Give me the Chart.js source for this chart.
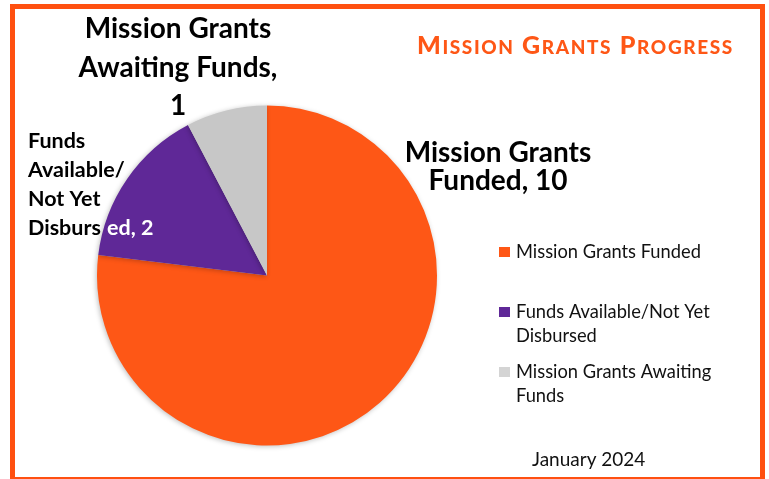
<!DOCTYPE html>
<html>
<head>
<meta charset="utf-8">
<script src="https://cdn.jsdelivr.net/npm/chart.js@4.4.1/dist/chart.umd.min.js"></script>
<style>
  html, body { margin: 0; padding: 0; background: #ffffff; overflow: hidden; }
  #wrap { position: relative; width: 769px; height: 479px; }
  #frame { position: absolute; left: 10px; top: 4px; width: 755px; height: 478px; box-sizing: border-box; border: 5px solid #FF5010; pointer-events: none; }
  canvas { position: absolute; left: 0; top: 0; }
</style>
</head>
<body>
<div id="wrap">
  <canvas id="c" width="769" height="479"></canvas>
  <div id="frame"></div>
</div>
<script>
const chartTitle = 'Mission Grants Progress';
const dateNote = 'January 2024';
const categories = ['Mission Grants Funded', 'Funds Available/Not Yet Disbursed', 'Mission Grants Awaiting Funds'];
const values = [10, 2, 1];
const colors = ['#FE5716', '#5F2897', '#C7C7C7'];
const legendColors = ['#FE5716', '#5F2897', '#D4D4D4'];
// data label line breaks (as in the reference)
const labelLines = [
  ['Mission Grants', 'Funded, 10'],
  ['Funds', 'Available/', 'Not Yet', 'Disburs|ed, 2'],
  ['Mission Grants', 'Awaiting Funds,', '1']
];
const legendLines = [
  ['Mission Grants Funded'],
  ['Funds Available/Not Yet', 'Disbursed'],
  ['Mission Grants Awaiting', 'Funds']
];

const FONT = 'Lato, "Open Sans", sans-serif';

function drawSmallCaps(ctx, text, x, y, big, small, spacing) {
  // manual small caps: uppercase letters at `big`, lowercase (uppercased) at `small`
  let cx = x;
  for (const ch of text) {
    const isLower = ch !== ch.toUpperCase();
    ctx.font = '900 ' + (isLower ? small : big) + 'px ' + FONT;
    const c = ch.toUpperCase();
    ctx.fillText(c, cx, y);
    cx += ctx.measureText(c).width + spacing;
  }
}

const textPlugin = {
  id: 'texts',
  beforeDatasetsDraw(chart) {
    const ctx = chart.ctx;
    ctx.save();
    ctx.shadowColor = 'rgba(0,0,0,0.25)';
    ctx.shadowBlur = 5;
    ctx.shadowOffsetX = -1;
    ctx.shadowOffsetY = 1;
  },
  afterDatasetsDraw(chart) {
    chart.ctx.restore();
  },
  afterDraw(chart) {
    const ctx = chart.ctx;
    ctx.save();
    ctx.textBaseline = 'alphabetic';
    ctx.textAlign = 'left';
    // Title (small caps)
    ctx.fillStyle = '#FE5716';
    drawSmallCaps(ctx, chartTitle, 417, 54, 25, 19, 1.6);

    // Data labels
    ctx.fillStyle = '#000';
    ctx.font = 'bold 28px ' + FONT;
    ctx.textAlign = 'center';
    labelLines[0].forEach((t, i) => ctx.fillText(t, 498, 162 + i * 28));
    labelLines[2].forEach((t, i) => ctx.fillText(t, 178, 38 + i * 38.5));
    ctx.font = 'bold 21.5px ' + FONT;
    ctx.textAlign = 'left';
    labelLines[1].forEach((t, i) => {
      const y = 148 + i * 29;
      if (t.includes('|')) {
        const [a, b] = t.split('|');
        ctx.fillStyle = '#000';
        ctx.fillText(a, 28, y);
        ctx.fillStyle = '#fff';
        ctx.fillText(b, 107, y);
      } else {
        ctx.fillStyle = '#000';
        ctx.fillText(t, 28, y);
      }
    });

    // Legend
    const legY = [258, 318, 378];
    ctx.font = '18.3px ' + FONT;
    legendLines.forEach((lines, k) => {
      ctx.fillStyle = legendColors[k];
      ctx.fillRect(499, legY[k] - 11, 11, 10);
      ctx.fillStyle = '#111';
      lines.forEach((t, i) => ctx.fillText(t, 516, legY[k] + i * 24));
    });

    // Date
    ctx.font = '19px ' + FONT;
    ctx.fillStyle = '#111';
    ctx.fillText(dateNote, 532, 466);
    ctx.restore();
  }
};

new Chart(document.getElementById('c'), {
  type: 'pie',
  data: {
    labels: categories,
    datasets: [{
      data: values,
      backgroundColor: colors,
      borderWidth: 0,
      hoverOffset: 0
    }]
  },
  options: {
    responsive: false,
    animation: false,
    events: [],
    layout: { padding: { left: 97, right: 332, top: 105.5, bottom: 33.5 } },
    plugins: {
      legend: { display: false },
      title: { display: false },
      tooltip: { enabled: false }
    }
  },
  plugins: [textPlugin]
});
</script>
</body>
</html>
